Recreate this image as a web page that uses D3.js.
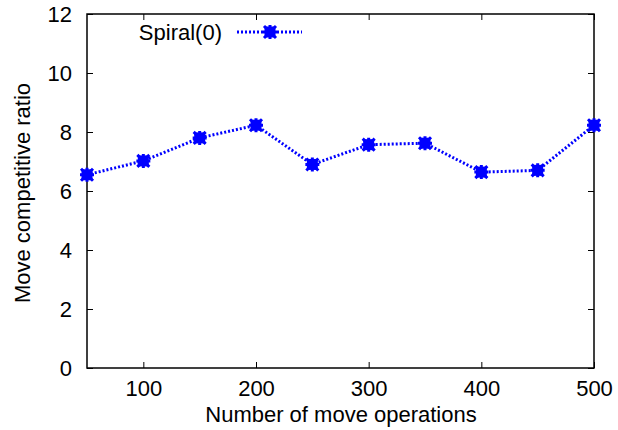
<!DOCTYPE html>
<html>
<head>
<meta charset="utf-8">
<script src="https://cdn.jsdelivr.net/npm/d3@7"></script>
<style>
  body { margin: 0; background: #fff; }
  text { font-family: "Liberation Sans", Arial, sans-serif; fill: #000; }
</style>
</head>
<body>
<div id="chart"></div>
<script>
var moveOps = [50, 100, 150, 200, 250, 300, 350, 400, 450, 500];
var ratios = [6.55, 7.02, 7.8, 8.23, 6.9, 7.57, 7.62, 6.64, 6.7, 8.23];
var xTicks = [100, 200, 300, 400, 500];
var yTicks = [0, 2, 4, 6, 8, 10, 12];
var seriesName = "Spiral(0)";

var margin = { top: 14, left: 87, right: 24, bottom: 62 },
    width = 618 - margin.left - margin.right,
    height = 430 - margin.top - margin.bottom;

var svg = d3.select("#chart")
    .append("svg")
    .attr("width", 618)
    .attr("height", 430)
    .append("g")
    .attr("transform", "translate(" + margin.left + "," + margin.top + ")");

var x = d3.scaleLinear().domain([50, 500]).range([0, width]);
var y = d3.scaleLinear().domain([0, 12]).range([height, 0]);

var datapoints = moveOps.map(function(d, i) { return { ops: d, ratio: ratios[i] }; });

// axes with inward ticks, mirrored on top/right like gnuplot
var xAxis = d3.axisBottom(x).tickValues(xTicks).tickSizeInner(-6).tickSizeOuter(0).tickPadding(12);
var yAxis = d3.axisLeft(y).tickValues(yTicks).tickSizeInner(-6).tickSizeOuter(0).tickPadding(15);

svg.append("g")
    .attr("class", "x-axis")
    .attr("transform", "translate(0," + height + ")")
    .call(xAxis);

svg.append("g")
    .attr("class", "y-axis")
    .call(yAxis);

svg.append("g")
    .call(d3.axisTop(x).tickValues(xTicks).tickSizeInner(-6).tickSizeOuter(0).tickFormat(""));

svg.append("g")
    .attr("transform", "translate(" + width + ",0)")
    .call(d3.axisRight(y).tickValues(yTicks).tickSizeInner(-6).tickSizeOuter(0).tickFormat(""));

svg.selectAll(".domain").remove();
svg.selectAll(".tick line").attr("stroke", "#000").attr("stroke-width", 1);
svg.selectAll(".tick text")
    .style("font-size", "22px")
    .style("font-family", "Liberation Sans, Arial, sans-serif");

svg.append("rect")
    .attr("width", width)
    .attr("height", height)
    .attr("fill", "none")
    .attr("stroke", "#000")
    .attr("stroke-width", 1.5);

var line = d3.line()
    .x(function(d) { return x(d.ops); })
    .y(function(d) { return y(d.ratio); });

svg.append("path")
    .datum(datapoints)
    .attr("d", line)
    .attr("fill", "none")
    .attr("stroke", "#0000ff")
    .attr("stroke-width", 3)
    .attr("stroke-dasharray", "2,2");

function drawMarker(g, cx, cy) {
    g.append("rect")
        .attr("x", cx - 5.5).attr("y", cy - 5.5)
        .attr("width", 11).attr("height", 11)
        .attr("fill", "#0000ff");
    g.append("path")
        .attr("d", "M" + (cx - 6) + "," + (cy - 6) + "L" + (cx + 6) + "," + (cy + 6) +
                   "M" + (cx - 6) + "," + (cy + 6) + "L" + (cx + 6) + "," + (cy - 6) +
                   "M" + (cx - 7) + "," + cy + "L" + (cx + 7) + "," + cy +
                   "M" + cx + "," + (cy - 7) + "L" + cx + "," + (cy + 7))
        .attr("stroke", "#0000ff")
        .attr("stroke-width", 3);
}

var markers = svg.append("g");
datapoints.forEach(function(d) {
    drawMarker(markers, x(d.ops), y(d.ratio));
});

// legend
var legend = svg.append("g").attr("transform", "translate(0,18)");
legend.append("text")
    .attr("x", 222 - margin.left)
    .attr("y", 0)
    .attr("dy", "0.35em")
    .attr("text-anchor", "end")
    .style("font-size", "22px")
    .text(seriesName);
legend.append("line")
    .attr("x1", 237 - margin.left).attr("x2", 302 - margin.left)
    .attr("y1", 0).attr("y2", 0)
    .attr("stroke", "#0000ff")
    .attr("stroke-width", 3)
    .attr("stroke-dasharray", "2,2");
drawMarker(legend, 270 - margin.left, 0);

// axis titles
svg.append("text")
    .attr("transform", "rotate(-90)")
    .attr("x", -(193 - margin.top))
    .attr("y", 22 - margin.left)
    .attr("dy", "0.35em")
    .attr("text-anchor", "middle")
    .style("font-size", "22px")
    .text("Move competitive ratio");

svg.append("text")
    .attr("x", 341 - margin.left)
    .attr("y", 414 - margin.top)
    .attr("dy", "0.35em")
    .attr("text-anchor", "middle")
    .style("font-size", "22px")
    .text("Number of move operations");
</script>
</body>
</html>
